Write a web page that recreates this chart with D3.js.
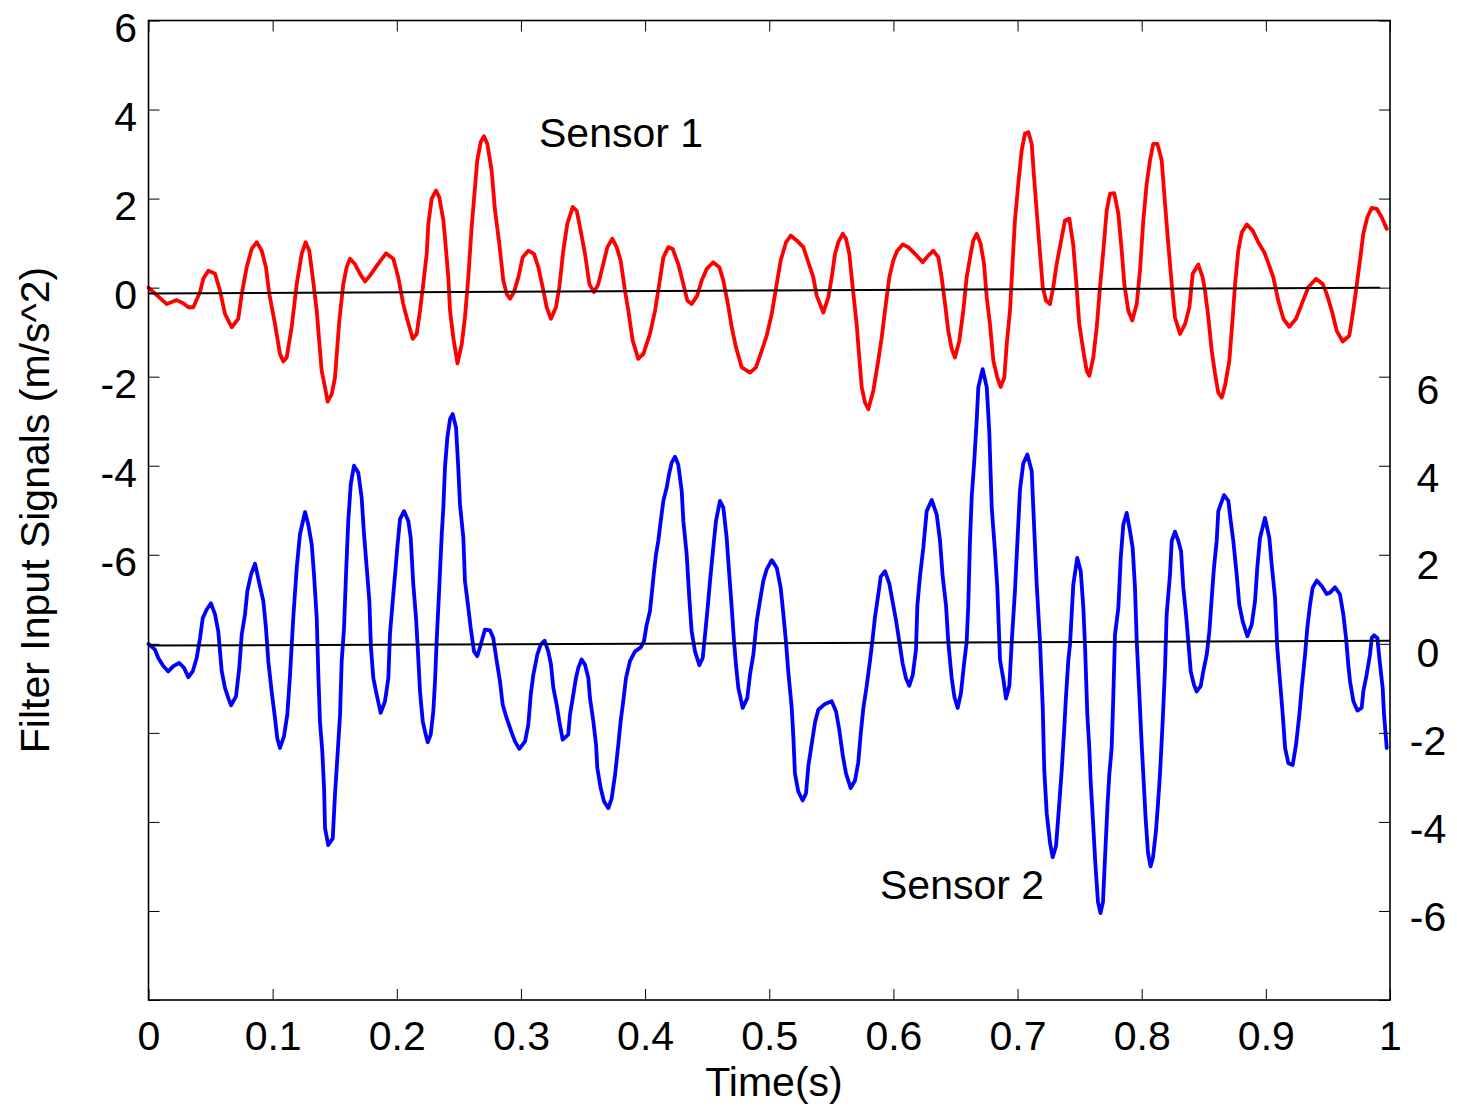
<!DOCTYPE html>
<html><head><meta charset="utf-8">
<script src="https://cdn.jsdelivr.net/npm/d3@7"></script>
<style>
html,body{margin:0;padding:0;background:#fff;}
svg{display:block;}
text{font-family:"Liberation Sans",Arial,Helvetica,sans-serif;fill:#000;}
</style>
</head><body>
<svg id="chart" width="1457" height="1109"></svg>
<script>
// ---------------- data ----------------
const sensor1Time = [0,0.0147,0.0227,0.0280,0.0321,0.0361,0.0415,0.0441,0.0482,0.0536,
0.0576,0.0616,0.0670,0.0723,0.0751,0.0791,0.0831,0.0872,0.0912,0.0946,
0.0973,0.1019,0.1059,0.1086,0.1113,0.1153,0.1194,0.1234,0.1266,0.1295,
0.1323,0.1355,0.1395,0.1422,0.1443,0.1476,0.1502,0.1537,0.1569,0.1596,
0.1623,0.1663,0.1704,0.1744,0.1784,0.1838,0.1913,0.1972,0.2012,0.2052,
0.2080,0.2128,0.2160,0.2187,0.2213,0.2241,0.2254,0.2281,0.2316,0.2342,
0.2375,0.2388,0.2415,0.2429,0.2455,0.2489,0.2523,0.2549,0.2576,0.2603,
0.2630,0.2648,0.2676,0.2702,0.2729,0.2764,0.2791,0.2826,0.2858,0.2885,
0.2912,0.2944,0.2979,0.3014,0.3059,0.3105,0.3140,0.3175,0.3207,0.3242,
0.3282,0.3309,0.3341,0.3373,0.3417,0.3449,0.3481,0.3516,0.3551,0.3588,
0.3623,0.3663,0.3696,0.3736,0.3771,0.3803,0.3838,0.3865,0.3900,0.3945,
0.3986,0.4039,0.4080,0.4114,0.4147,0.4187,0.4222,0.4267,0.4308,0.4340,
0.4375,0.4420,0.4456,0.4496,0.4549,0.4598,0.4630,0.4662,0.4698,0.4732,
0.4778,0.4845,0.4893,0.4939,0.4979,0.5020,0.5060,0.5092,0.5135,0.5173,
0.5221,0.5274,0.5315,0.5355,0.5382,0.5409,0.5435,0.5476,0.5503,0.5530,
0.5556,0.5592,0.5618,0.5645,0.5672,0.5704,0.5725,0.5745,0.5771,0.5798,
0.5838,0.5878,0.5906,0.5932,0.5967,0.5999,0.6031,0.6075,0.6120,0.6174,
0.6236,0.6281,0.6321,0.6362,0.6389,0.6416,0.6442,0.6470,0.6496,0.6531,
0.6563,0.6590,0.6623,0.6644,0.6671,0.6703,0.6730,0.6752,0.6778,0.6805,
0.6837,0.6864,0.6893,0.6913,0.6939,0.6961,0.6979,0.7006,0.7033,0.7060,
0.7087,0.7114,0.7133,0.7154,0.7175,0.7203,0.7229,0.7261,0.7288,0.7315,
0.7356,0.7382,0.7417,0.7449,0.7476,0.7497,0.7530,0.7557,0.7578,0.7610,
0.7638,0.7664,0.7691,0.7718,0.7745,0.7779,0.7812,0.7839,0.7860,0.7892,
0.7924,0.7960,0.7986,0.8013,0.8040,0.8067,0.8093,0.8126,0.8161,0.8188,
0.8214,0.8242,0.8268,0.8309,0.8349,0.8384,0.8411,0.8456,0.8491,0.8510,
0.8537,0.8564,0.8591,0.8617,0.8645,0.8671,0.8706,0.8733,0.8752,0.8778,
0.8806,0.8846,0.8894,0.8939,0.8988,0.9028,0.9060,0.9100,0.9141,0.9189,
0.9243,0.9289,0.9342,0.9404,0.9458,0.9490,0.9531,0.9571,0.9619,0.9672,
0.9700,0.9726,0.9758,0.9785,0.9817,0.9853,0.9893,0.9933,0.9974];

const sensor1Accel = [0,-0.37,-0.28,-0.35,-0.44,-0.44,-0.10,0.20,0.38,0.31,
-0.07,-0.59,-0.89,-0.70,-0.14,0.46,0.87,1.02,0.83,0.46,
-0.14,-0.82,-1.49,-1.66,-1.57,-0.89,0.08,0.76,1.02,0.83,
0.23,-0.52,-1.87,-2.24,-2.56,-2.39,-2.02,-0.74,0.08,0.46,
0.65,0.53,0.31,0.14,0.27,0.49,0.77,0.65,0.23,-0.37,
-0.67,-1.15,-1.04,-0.52,0.08,0.76,1.43,2.00,2.18,2.03,
1.51,1.13,0.23,-0.52,-1.12,-1.70,-1.27,-0.67,0.23,1.36,
2.26,2.86,3.27,3.40,3.23,2.63,1.73,0.98,0.16,-0.14,
-0.25,-0.10,0.23,0.68,0.83,0.76,0.46,0.01,-0.44,-0.70,
-0.44,0.01,0.83,1.43,1.81,1.73,1.28,0.76,0.08,-0.10,
0.08,0.53,0.91,1.10,0.91,0.61,-0.07,-0.52,-1.19,-1.60,
-1.49,-1.04,-0.52,0.08,0.68,0.91,0.87,0.53,0.08,-0.29,
-0.37,-0.18,0.16,0.42,0.57,0.46,0.16,-0.29,-0.89,-1.34,
-1.79,-1.91,-1.79,-1.42,-1.08,-0.59,0.08,0.61,1.02,1.17,
1.06,0.91,0.57,0.23,-0.18,-0.37,-0.56,-0.22,0.23,0.76,
1.02,1.21,1.10,0.76,0.01,-0.82,-1.57,-2.24,-2.58,-2.73,
-2.32,-1.64,-1.12,-0.52,0.23,0.61,0.83,0.97,0.91,0.76,
0.57,0.72,0.83,0.68,0.23,-0.37,-0.97,-1.38,-1.57,-1.19,
-0.52,0.23,0.76,1.06,1.21,0.98,0.53,-0.22,-0.82,-1.64,
-2.02,-2.23,-2.02,-1.27,-0.52,0.61,1.51,2.33,3.08,3.46,
3.49,3.23,2.48,1.73,0.98,0.01,-0.29,-0.37,0.01,0.53,
1.13,1.51,1.55,0.95,0.01,-0.82,-1.42,-1.87,-1.98,-1.57,
-0.89,0.01,0.83,1.73,2.11,2.12,1.66,0.83,0.08,-0.52,
-0.74,-0.37,0.38,1.51,2.33,2.86,3.23,3.23,2.86,1.88,
0.98,0.08,-0.67,-1.04,-0.82,-0.44,0.31,0.52,0.23,-0.07,
-0.67,-1.42,-1.94,-2.36,-2.47,-2.20,-1.64,-0.67,0.08,0.83,
1.24,1.42,1.28,1.02,0.79,0.49,0.23,-0.29,-0.70,-0.88,
-0.70,-0.37,0.01,0.20,0.08,-0.14,-0.52,-0.97,-1.21,-1.08,
-0.59,-0.07,0.61,1.21,1.58,1.79,1.77,1.58,1.32];

const sensor2Time = [0,0.0052,0.0079,0.0119,0.0159,0.0200,0.0248,0.0286,0.0321,0.0356,
0.0388,0.0415,0.0437,0.0469,0.0503,0.0536,0.0562,0.0590,0.0616,0.0643,
0.0665,0.0705,0.0731,0.0751,0.0777,0.0796,0.0826,0.0858,0.0892,0.0925,
0.0946,0.0965,0.0992,0.1019,0.1037,0.1059,0.1091,0.1118,0.1140,0.1166,
0.1194,0.1220,0.1261,0.1287,0.1315,0.1333,0.1355,0.1368,0.1381,0.1400,
0.1414,0.1422,0.1448,0.1484,0.1502,0.1521,0.1543,0.1556,0.1575,0.1591,
0.1609,0.1629,0.1655,0.1690,0.1717,0.1736,0.1762,0.1779,0.1792,0.1811,
0.1838,0.1870,0.1905,0.1932,0.1945,0.1967,0.1986,0.2004,0.2026,0.2058,
0.2093,0.2112,0.2133,0.2155,0.2173,0.2187,0.2209,0.2227,0.2249,0.2273,
0.2294,0.2308,0.2321,0.2342,0.2362,0.2375,0.2388,0.2407,0.2429,0.2450,
0.2477,0.2495,0.2509,0.2536,0.2549,0.2576,0.2595,0.2622,0.2648,0.2676,
0.2710,0.2751,0.2777,0.2805,0.2831,0.2853,0.2885,0.2926,0.2952,0.2987,
0.3033,0.3059,0.3079,0.3100,0.3132,0.3159,0.3191,0.3220,0.3242,0.3261,
0.3288,0.3309,0.3336,0.3381,0.3395,0.3417,0.3443,0.3462,0.3489,0.3516,
0.3543,0.3556,0.3583,0.3605,0.3615,0.3642,0.3669,0.3704,0.3731,0.3758,
0.3784,0.3803,0.3824,0.3846,0.3878,0.3919,0.3965,0.3991,0.4013,0.4039,
0.4053,0.4072,0.4088,0.4106,0.4126,0.4147,0.4174,0.4193,0.4214,0.4241,
0.4267,0.4295,0.4308,0.4335,0.4356,0.4375,0.4402,0.4437,0.4464,0.4483,
0.4501,0.4523,0.4549,0.4571,0.4603,0.4630,0.4657,0.4676,0.4698,0.4716,
0.4732,0.4751,0.4786,0.4823,0.4845,0.4872,0.4899,0.4925,0.4952,0.4979,
0.5020,0.5060,0.5092,0.5113,0.5135,0.5153,0.5181,0.5194,0.5207,0.5234,
0.5269,0.5296,0.5315,0.5342,0.5369,0.5395,0.5449,0.5503,0.5538,0.5564,
0.5592,0.5618,0.5656,0.5691,0.5717,0.5737,0.5758,0.5785,0.5812,0.5833,
0.5852,0.5878,0.5898,0.5932,0.5967,0.5994,0.6021,0.6048,0.6075,0.6102,
0.6128,0.6156,0.6182,0.6193,0.6214,0.6241,0.6268,0.6309,0.6349,0.6375,
0.6397,0.6424,0.6442,0.6470,0.6491,0.6518,0.6544,0.6569,0.6590,0.6603,
0.6617,0.6631,0.6652,0.6671,0.6684,0.6719,0.6752,0.6772,0.6792,0.6818,
0.6837,0.6859,0.6885,0.6907,0.6934,0.6953,0.6979,0.6998,0.7020,0.7046,
0.7079,0.7114,0.7133,0.7154,0.7181,0.7203,0.7215,0.7235,0.7261,0.7283,
0.7310,0.7328,0.7356,0.7374,0.7390,0.7409,0.7423,0.7449,0.7481,0.7509,
0.7530,0.7544,0.7562,0.7578,0.7589,0.7608,0.7628,0.7648,0.7668,0.7688,
0.7708,0.7725,0.7739,0.7758,0.7771,0.7785,0.7812,0.7831,0.7852,0.7879,
0.7906,0.7927,0.7946,0.7960,0.7981,0.8000,0.8013,0.8031,0.8051,0.8071,
0.8091,0.8115,0.8131,0.8147,0.8169,0.8188,0.8201,0.8228,0.8242,0.8268,
0.8295,0.8317,0.8335,0.8357,0.8375,0.8395,0.8421,0.8443,0.8475,0.8496,
0.8524,0.8545,0.8564,0.8582,0.8604,0.8617,0.8636,0.8663,0.8698,0.8717,
0.8738,0.8765,0.8786,0.8813,0.8851,0.8886,0.8913,0.8931,0.8953,0.8993,
0.9028,0.9047,0.9074,0.9092,0.9114,0.9136,0.9155,0.9181,0.9216,0.9243,
0.9270,0.9289,0.9316,0.9334,0.9356,0.9377,0.9410,0.9450,0.9490,0.9517,
0.9557,0.9597,0.9624,0.9646,0.9664,0.9678,0.9705,0.9737,0.9772,0.9785,
0.9812,0.9839,0.9853,0.9871,0.9898,0.9920,0.9941,0.9952,0.9974];

const sensor2Accel = [0,-0.13,-0.32,-0.50,-0.62,-0.50,-0.43,-0.54,-0.75,-0.62,
-0.32,0.13,0.58,0.77,0.91,0.66,0.28,-0.62,-0.99,-1.22,
-1.38,-1.18,-0.54,0.21,0.66,1.18,1.56,1.80,1.37,0.96,
0.36,-0.39,-1.07,-1.67,-2.12,-2.34,-2.08,-1.59,-0.69,0.58,
1.71,2.46,2.96,2.68,2.23,1.56,0.58,-0.69,-1.74,-2.42,
-3.24,-4.14,-4.52,-4.37,-3.39,-2.57,-1.59,-0.39,0.36,1.56,
2.76,3.58,4.00,3.84,3.28,2.46,1.56,0.96,-0.09,-0.77,
-1.14,-1.55,-1.29,-0.77,0.21,0.96,1.56,2.16,2.80,2.98,
2.76,2.38,1.33,0.58,-0.32,-1.07,-1.74,-1.97,-2.21,-2.04,
-1.52,-0.84,0.06,1.26,2.46,3.06,3.96,4.63,5.05,5.16,
4.86,3.96,3.13,2.38,1.41,0.81,0.36,-0.17,-0.28,-0.02,
0.32,0.30,0.13,-0.39,-0.84,-1.37,-1.67,-2.00,-2.19,-2.36,
-2.19,-1.82,-1.14,-0.69,-0.24,-0.02,0.07,-0.17,-0.47,-0.99,
-1.37,-1.74,-2.15,-2.04,-1.59,-1.22,-0.77,-0.54,-0.35,-0.47,
-0.77,-1.22,-1.74,-2.27,-2.79,-3.24,-3.54,-3.69,-3.47,-2.94,
-2.27,-1.74,-1.29,-0.77,-0.39,-0.17,-0.08,0.06,0.43,0.73,
1.11,1.63,2.01,2.31,2.76,3.21,3.51,3.81,4.07,4.20,
4.03,3.43,2.76,2.01,1.03,0.28,-0.17,-0.48,-0.32,0.21,
0.73,1.41,2.16,2.76,3.21,3.06,2.38,1.63,0.81,0.06,
-0.47,-0.99,-1.44,-1.22,-0.69,-0.24,0.51,0.96,1.41,1.67,
1.88,1.71,1.26,0.69,0.04,-0.62,-1.44,-2.09,-2.91,-3.32,
-3.52,-3.36,-2.74,-2.25,-1.76,-1.48,-1.35,-1.29,-1.52,-1.93,
-2.50,-2.91,-3.24,-3.07,-2.66,-2.01,-1.44,-0.94,-0.37,0.12,
0.61,1.10,1.51,1.63,1.35,0.94,0.53,0.04,-0.45,-0.78,
-0.94,-0.70,-0.13,0.86,1.51,2.16,2.98,3.23,2.90,2.33,
1.51,0.86,0.04,-0.78,-1.19,-1.44,-1.11,-0.45,0.04,0.86,
2.33,3.31,4.13,5.03,5.76,6.17,5.76,4.78,3.06,2.08,
1.26,-0.37,-0.78,-1.23,-0.94,0.04,1.18,2.25,3.47,4.05,
4.25,3.88,2.66,1.35,0.04,-1.44,-2.83,-3.81,-4.46,-4.79,
-4.54,-3.89,-2.83,-2.01,-1.19,-0.37,0.00,1.33,1.93,1.63,
0.81,-0.09,-1.59,-2.34,-3.09,-4.00,-5.00,-5.80,-6.05,-5.80,
-4.60,-3.60,-2.94,-2.34,-1.22,0.21,0.81,1.93,2.68,2.94,
2.53,2.16,1.26,0.06,-1.14,-2.27,-2.94,-3.90,-4.70,-5.00,
-4.80,-4.20,-3.60,-2.94,-1.74,-0.54,0.66,1.56,2.31,2.52,
2.31,2.08,1.26,0.66,0.06,-0.62,-0.92,-1.07,-0.95,-0.62,
-0.24,0.28,1.03,1.71,2.31,2.98,3.13,3.34,3.21,2.76,
2.31,1.56,0.88,0.51,0.17,0.43,0.96,1.71,2.38,2.83,
2.38,1.78,1.03,-0.09,-0.84,-1.59,-2.34,-2.68,-2.72,-2.27,
-1.59,-0.99,-0.24,0.36,0.88,1.26,1.42,1.30,1.12,1.15,
1.27,1.11,0.66,0.13,-0.47,-0.84,-1.29,-1.50,-1.44,-1.07,
-0.69,-0.24,0.13,0.19,0.13,-0.47,-0.99,-1.59,-2.34];

// reference (trend) lines drawn through each signal
const sensor1TrendTime = [0, 0.992];
const sensor1TrendValue = [-0.13, 0.0];
const sensor2TrendTime = [0, 1.0];
const sensor2TrendValue = [-0.04, 0.07];

// tick definitions
const xTickValues = [0,0.1,0.2,0.3,0.4,0.5,0.6,0.7,0.8,0.9,1];
const xTickLabels = ["0","0.1","0.2","0.3","0.4","0.5","0.6","0.7","0.8","0.9","1"];
const leftTickValues = [-16,-14,-12,-10,-8,-6,-4,-2,0,2,4,6];
const leftTickLabels = ["","","","","","-6","-4","-2","0","2","4","6"];
const rightTickValues = [-6,-4,-2,0,2,4,6];
const rightTickLabels = ["-6","-4","-2","0","2","4","6"];

const series1Label = "Sensor 1";
const series2Label = "Sensor 2";
const xTitle = "Time(s)";
const yTitle = "Filter Input Signals (m/s^2)";

// ---------------- drawing ----------------
const svg = d3.select("#chart");
const FS = 41;
const P = {left:148.5, right:1390, top:20.5, bottom:1000};

const x = d3.scaleLinear().domain([0,1]).range([P.left, P.right]);
const yLeft = d3.scaleLinear().domain([-16,6]).range([P.bottom, P.top]);
const ySensor2 = d3.scaleLinear().domain([-8,14]).range([P.bottom, P.top]);
const yRightLabel = d3.scaleLinear().domain([-6,6]).range([917,389.6]);

const pairs = (t,v) => t.map((ti,i)=>[ti, v[i]]);

const line1 = d3.line().x(d=>x(d[0])).y(d=>yLeft(d[1]));
const line2 = d3.line().x(d=>x(d[0])).y(d=>ySensor2(d[1]));

svg.append("path").datum(pairs(sensor1Time, sensor1Accel))
  .attr("d", line1).attr("fill","none").attr("stroke","#ff0000")
  .attr("stroke-width",3.8).attr("stroke-linejoin","round").attr("stroke-linecap","round");
svg.append("path").datum(pairs(sensor2Time, sensor2Accel))
  .attr("d", line2).attr("fill","none").attr("stroke","#0000ff")
  .attr("stroke-width",3.8).attr("stroke-linejoin","round").attr("stroke-linecap","round");

svg.append("path").datum(pairs(sensor1TrendTime, sensor1TrendValue))
  .attr("d", line1).attr("fill","none").attr("stroke","#000").attr("stroke-width",2);
svg.append("path").datum(pairs(sensor2TrendTime, sensor2TrendValue))
  .attr("d", line2).attr("fill","none").attr("stroke","#000").attr("stroke-width",2);

// axes
function styleAxis(g){
  g.select(".domain").remove();
  g.selectAll(".tick line").attr("stroke","#000").attr("stroke-width",1);
  g.selectAll("text").attr("font-size",FS).attr("font-family","'Liberation Sans',Arial,Helvetica,sans-serif").attr("fill","#000");
}

const gLeft = svg.append("g").attr("transform",`translate(${P.left},0)`)
  .call(d3.axisLeft(yLeft).tickValues(leftTickValues).tickSize(-11)
    .tickFormat((d,i)=>leftTickLabels[i]));
styleAxis(gLeft);
gLeft.selectAll("text").attr("x",-11.5).attr("dy","0.5em");

const gRightTicks = svg.append("g").attr("transform",`translate(${P.right},0)`)
  .call(d3.axisRight(yLeft).tickValues(leftTickValues).tickSize(-11).tickFormat(""));
styleAxis(gRightTicks);

const gRightLabels = svg.append("g").attr("transform",`translate(${P.right},0)`)
  .call(d3.axisRight(yRightLabel).tickValues(rightTickValues).tickSize(0)
    .tickFormat((d,i)=>rightTickLabels[i]));
styleAxis(gRightLabels);
gRightLabels.selectAll(".tick line").remove();
gRightLabels.selectAll("text").attr("x",38).attr("text-anchor","middle").attr("dy","0.33em");

const gBottom = svg.append("g").attr("transform",`translate(0,${P.bottom})`)
  .call(d3.axisBottom(x).tickValues(xTickValues).tickSize(-11)
    .tickFormat((d,i)=>xTickLabels[i]));
styleAxis(gBottom);
gBottom.selectAll("text").attr("y",50).attr("dy","0");

const gTop = svg.append("g").attr("transform",`translate(0,${P.top})`)
  .call(d3.axisTop(x).tickValues(xTickValues).tickSize(-11).tickFormat(""));
styleAxis(gTop);

// box
svg.append("rect").attr("x",P.left).attr("y",P.top)
  .attr("width",P.right-P.left).attr("height",P.bottom-P.top)
  .attr("fill","none").attr("stroke","#000").attr("stroke-width",1.6);

// labels
svg.append("text").attr("x",539).attr("y",147).attr("font-size",FS).text(series1Label);
svg.append("text").attr("x",880).attr("y",899).attr("font-size",FS).text(series2Label);
svg.append("text").attr("x",774).attr("y",1096).attr("font-size",FS)
  .attr("text-anchor","middle").text(xTitle);
svg.append("text").attr("transform","translate(49,510) rotate(-90)")
  .attr("font-size",FS).attr("text-anchor","middle").text(yTitle);
</script>
</body></html>
